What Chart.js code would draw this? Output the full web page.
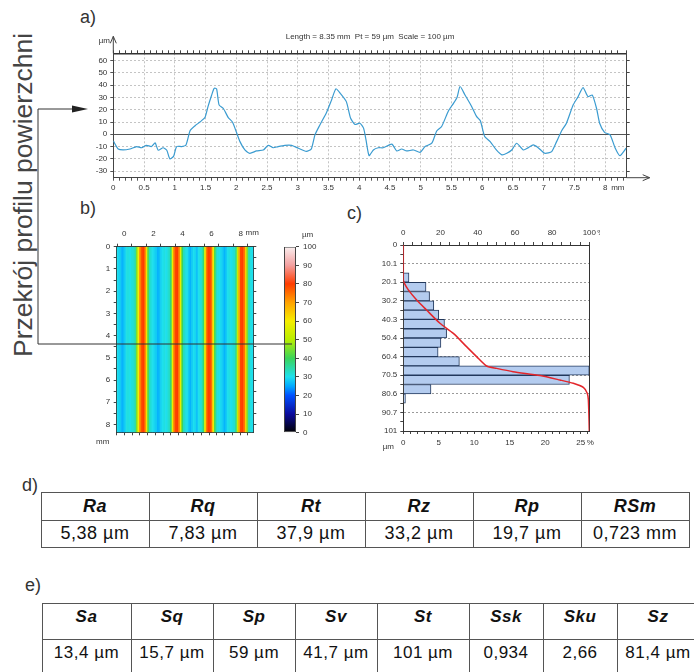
<!DOCTYPE html>
<html>
<head>
<meta charset="utf-8">
<script src="https://cdn.jsdelivr.net/npm/chart.js@4.4.1/dist/chart.umd.min.js"></script>
<style>
  html, body { margin: 0; padding: 0; background: #fff; }
  body { position: relative; width: 694px; height: 672px; overflow: hidden; font-family: "Liberation Sans", Arial, sans-serif; color: #222; }
  .box { position: absolute; }
  .box canvas { display: block; }
  .tag { position: absolute; font-size: 18px; line-height: 1; color: #333; }
  #side { position: absolute; left: 10px; top: 357px; font-size: 26.5px; line-height: 1; color: #444; white-space: nowrap; transform-origin: 0 0; transform: rotate(-90deg); }
  table { position: absolute; border-collapse: collapse; table-layout: fixed; }
  td, th { border: 1px solid #555; text-align: center; padding: 0; color: #111; }
  th { font-weight: bold; font-style: italic; }
  #tblR { font-size: 18px; letter-spacing: 0.5px; }
  #tblS { font-size: 17px; letter-spacing: 0.5px; }
  #tblS td, #tblS th { vertical-align: top; padding-top: 3px; }
  svg { position: absolute; left: 0; top: 0; pointer-events: none; }
</style>
</head>
<body>

<div class="tag" style="left:80px;top:8px">a)</div>
<div class="tag" style="left:80px;top:199px">b)</div>
<div class="tag" style="left:347px;top:204px">c)</div>
<div class="tag" style="left:22px;top:476px">d)</div>
<div class="tag" style="left:25px;top:576px">e)</div>
<div id="side"></div>

<div class="box" style="left:60px;top:20px"><canvas id="profile" width="610" height="185"></canvas></div>
<div class="box" style="left:80px;top:215px"><canvas id="map" width="190" height="235"></canvas></div>
<div class="box" style="left:270px;top:220px"><canvas id="scale" width="60" height="225"></canvas></div>
<div class="box" style="left:340px;top:215px"><canvas id="hist" width="260" height="240"></canvas></div>

<table id="tblR" style="left:40.5px;top:491.5px;width:648px"></table>
<table id="tblS" style="left:41.5px;top:602.5px;width:657px"></table>

<svg width="694" height="672">
  <polyline points="72,109 38,109 38,344 292,344" fill="none" stroke="#333" stroke-width="1"/>
  <polygon points="72,105.5 88,109 72,112.5" fill="#222"/>
</svg>

<script>
const sectionLabel = 'Przekrój profilu powierzchni'

// a) profile along the section line
const profileInfo = 'Length = 8.35 mm  Pt = 59 µm  Scale = 100 µm'
const profileLength = 8.35
const profileMm = [0, 0.08, 0.16, 0.27, 0.38, 0.46, 0.54, 0.62, 0.68, 0.73, 0.81, 0.87, 0.92, 0.98, 1.03, 1.11, 1.18, 1.25, 1.33, 1.41,
  1.49, 1.54, 1.6, 1.64, 1.68, 1.72, 1.79, 1.87, 1.94, 2.0, 2.06, 2.14, 2.22, 2.33, 2.44, 2.52, 2.6, 2.68, 2.79, 2.9,
  3.01, 3.14, 3.22, 3.28, 3.36, 3.47, 3.55, 3.62, 3.69, 3.79, 3.86, 3.93, 4.01, 4.07, 4.11, 4.16, 4.23, 4.31, 4.39, 4.53,
  4.61, 4.69, 4.77, 4.88, 4.99, 5.07, 5.18, 5.26, 5.34, 5.45, 5.53, 5.59, 5.64, 5.72, 5.83, 5.91, 5.97, 6.04, 6.13, 6.23,
  6.32, 6.4, 6.48, 6.56, 6.67, 6.75, 6.83, 6.91, 7.02, 7.13, 7.21, 7.29, 7.37, 7.48, 7.56, 7.64, 7.72, 7.79, 7.86, 7.91,
  7.99, 8.08, 8.16, 8.24, 8.34]
const profileUm = [-5.4, -12, -12.8, -12, -10, -11, -9, -10, -7, -13, -11, -13, -20, -18, -10, -10, -9, 3, 7, 10,
  13.6, 22.5, 32, 37.5, 37, 24, 21, 13.6, 9.8, 2, -6, -12.8, -15.5, -13.6, -12.8, -9, -11, -10, -9, -9,
  -11.4, -14, -12, -0.5, 7.6, 18, 28, 37, 33.4, 26.6, 13, 8, 9, 5, -4.6, -17.4, -12.8, -11, -11, -8,
  -13.6, -12, -13.6, -12.8, -14.7, -10, -7.3, 2.7, 6.3, 19, 25, 30, 38.9, 32, 22.5, 14.4, 11, -1.9, -6, -12.8,
  -16.8, -15.5, -12.8, -7.3, -12.8, -10.9, -8.7, -10.9, -15.5, -14.1, -6, 2.7, 9, 24, 30.7, 38, 30.7, 32, 21, 9,
  1.6, -0.5, -10.9, -17.4, -11.4]

// b) height map, one value (µm) per 0.1 mm column
const mapLength = 8.35
const mapColumnsUm = [30, 29, 28, 26, 27, 29, 31, 31, 30, 31, 32, 34, 45, 60, 72, 78, 80, 76, 62, 42,
  33, 31, 30, 29, 28, 26, 27, 29, 30, 31, 30, 31, 33, 38, 58, 74, 79, 80, 74, 58,
  40, 33, 31, 30, 28, 26, 28, 30, 29, 27, 30, 31, 32, 38, 58, 74, 80, 80, 75, 60,
  42, 33, 31, 30, 29, 28, 26, 28, 30, 31, 30, 31, 32, 36, 52, 70, 79, 80, 76, 64,
  45, 34, 31, 30]
const colorbarRange = [0, 100]

// c) height distribution
const depthTickLabels = ['0', '10.1', '20.1', '30.2', '40.3', '50.4', '60.4', '70.5', '80.6', '90.7', '101']
const depthMax = 101
const histCentersUm = [17.68, 22.73, 27.78, 32.83, 37.88, 42.93, 47.98, 53.03, 58.08, 63.13, 68.18, 73.23, 78.28, 83.33]
const histSharePct = [0.8, 3.2, 3.7, 4.3, 5.0, 5.8, 6.1, 5.3, 4.9, 7.9, 26.2, 23.4, 3.9, 0.3]
const histShareMax = 26.2
const cumPercent = [0, 0, 0.4, 2.7, 7.2, 12.5, 19.7, 26.9, 34, 39.4, 44.8, 50.2, 59, 73.5, 84.2, 91.4, 96.8, 98.9, 99.5, 100]
const cumDepthUm = [0, 19, 20.4, 24.4, 29.9, 35.3, 42.5, 48, 55.2, 60.6, 65.7, 67, 68.8, 70.9, 73.3, 75.1, 77.3, 80.5, 84.2, 101]

// d) / e) parameter tables
const profileParams = ['Ra', 'Rq', 'Rt', 'Rz', 'Rp', 'RSm']
const profileValues = ['5,38 µm', '7,83 µm', '37,9 µm', '33,2 µm', '19,7 µm', '0,723 mm']
const surfaceParams = ['Sa', 'Sq', 'Sp', 'Sv', 'St', 'Ssk', 'Sku', 'Sz']
const surfaceValues = ['13,4 µm', '15,7 µm', '59 µm', '41,7 µm', '101 µm', '0,934', '2,66', '81,4 µm']

document.getElementById('side').textContent = sectionLabel

function fillTable(id, heads, vals, widths, heights) {
  const t = document.getElementById(id)
  const cg = document.createElement('colgroup')
  widths.forEach(w => { const c = document.createElement('col'); c.style.width = w + 'px'; cg.appendChild(c) })
  t.appendChild(cg)
  ;[heads, vals].forEach((row, r) => {
    const tr = document.createElement('tr')
    tr.style.height = heights[r] + 'px'
    row.forEach(txt => { const c = document.createElement(r ? 'td' : 'th'); c.textContent = txt; tr.appendChild(c) })
    t.appendChild(tr)
  })
}
fillTable('tblR', profileParams, profileValues, [108, 108, 108, 108, 108, 108], [28, 27])
fillTable('tblS', surfaceParams, surfaceValues, [89, 82, 82, 82, 92, 74, 74, 82], [36, 36])

// colour scale of the height map
const cmapStops = [[0, '#000000'], [10, '#0b0b9c'], [20, '#0050ff'], [25, '#00a8ff'], [30, '#1ee0ee'], [40, '#3ad45a'],
  [50, '#b8ee00'], [60, '#f6ee00'], [70, '#ffa200'], [80, '#ff3c00'], [90, '#f3a0a0'], [100, '#faf0f0']]
function hexRgb(h) { return [1, 3, 5].map(i => parseInt(h.substr(i, 2), 16)) }
function colorAt(v) {
  for (let i = 1; i < cmapStops.length; i++) {
    const [v1, c1] = cmapStops[i]
    const [v0, c0] = cmapStops[i - 1]
    if (v <= v1) {
      const t = (v - v0) / (v1 - v0), a = hexRgb(c0), b = hexRgb(c1)
      return 'rgb(' + a.map((x, k) => Math.round(x + (b[k] - x) * t)).join(',') + ')'
    }
  }
  return cmapStops[cmapStops.length - 1][1]
}

Chart.defaults.font.family = '"Liberation Sans", Arial, sans-serif'
Chart.defaults.font.size = 8
Chart.defaults.color = '#333'
Chart.defaults.animation = false
Chart.defaults.responsive = false
Chart.defaults.plugins.legend.display = false
Chart.defaults.plugins.tooltip.enabled = false

const CLEAR = 'rgba(0,0,0,0)'
const near = (v, step) => Math.abs(v / step - Math.round(v / step)) < 1e-6
const FONT = '8px "Liberation Sans", Arial, sans-serif'

function ticksOnly(extra) {
  return Object.assign({ ticks: { display: false }, grid: { drawOnChartArea: false, tickLength: 3, tickColor: '#444' }, border: { color: '#333' } }, extra)
}

// ---------- a) profile ----------
const profileDecor = {
  id: 'profileDecor',
  afterDraw(chart) {
    const { ctx, chartArea: a } = chart
    const x8 = chart.scales.x.getPixelForValue(8)
    ctx.save()
    ctx.strokeStyle = '#444'
    ctx.lineWidth = 1
    ctx.beginPath()
    ctx.moveTo(a.left, a.top); ctx.lineTo(a.left, a.top - 17)
    ctx.moveTo(a.left - 3, a.top - 10); ctx.lineTo(a.left, a.top - 17); ctx.lineTo(a.left + 3, a.top - 10)
    ctx.moveTo(a.right, a.bottom); ctx.lineTo(a.right + 23, a.bottom)
    ctx.moveTo(a.right + 16, a.bottom - 3); ctx.lineTo(a.right + 23, a.bottom); ctx.lineTo(a.right + 16, a.bottom + 3)
    ctx.stroke()
    ctx.fillStyle = '#333'
    ctx.font = FONT
    ctx.textBaseline = 'middle'
    ctx.textAlign = 'center'
    ctx.fillText(profileInfo, (a.left + a.right) / 2, a.top - 17)
    ctx.fillText('µm', a.left - 9, a.top - 13)
    ctx.textAlign = 'left'
    ctx.fillText('mm', x8 + 6, a.bottom + 10.3)
    ctx.restore()
  }
}

new Chart(document.getElementById('profile'), {
  type: 'line',
  data: {
    datasets: [{
      data: profileMm.map((x, i) => ({ x, y: profileUm[i] })),
      borderColor: '#3a9bd0', borderWidth: 1.2, pointRadius: 0, tension: 0.2
    }]
  },
  options: {
    layout: { padding: { left: 0, top: 29.3, right: 39.3, bottom: 5.3 } },
    scales: {
      x: {
        type: 'linear', min: 0, max: profileLength,
        afterFit: s => { s.height = 22 },
        ticks: { stepSize: 0.1, autoSkip: false, maxRotation: 0, includeBounds: false, padding: 2,
          callback: v => near(v, 0.5) ? String(v) : '' },
        grid: { color: c => c.tick && c.tick.value > 0 && near(c.tick.value, 0.5) ? '#c4c4c4' : CLEAR, tickColor: '#555', tickLength: 3 },
        border: { color: '#444', dash: [2, 2] }
      },
      x2: ticksOnly({
        type: 'linear', position: 'top', min: 0, max: profileLength,
        afterFit: s => { s.height = 4 },
        ticks: { display: false, stepSize: 0.1 },
        border: { color: '#333', width: 1.5 }
      }),
      y: {
        min: -35.4, max: 66,
        afterFit: s => { s.width = 53.3 },
        ticks: { stepSize: 10, includeBounds: false, padding: 3 },
        grid: { color: c => c.tick && c.tick.value === 0 ? '#555' : '#c4c4c4', tickColor: '#555', tickLength: 3 },
        border: { color: '#444', dash: c => c.tick && c.tick.value === 0 ? [] : [2, 2] }
      },
      y2: ticksOnly({
        position: 'right', min: -35.4, max: 66,
        afterFit: s => { s.width = 4 },
        ticks: { display: false, stepSize: 10, includeBounds: false },
        border: { color: '#444' }
      })
    }
  },
  plugins: [profileDecor]
})

// ---------- b) height map ----------
const mapDecor = {
  id: 'mapDecor',
  afterDraw(chart) {
    const { ctx, chartArea: a } = chart
    const x8 = chart.scales.xt.getPixelForValue(8)
    ctx.save()
    ctx.fillStyle = '#333'
    ctx.font = FONT
    ctx.textBaseline = 'middle'
    ctx.textAlign = 'left'
    ctx.fillText('mm', x8 + 5, a.top - 13.5)
    ctx.textAlign = 'center'
    ctx.fillText('mm', a.left - 14, a.bottom + 9)
    ctx.restore()
  }
}

new Chart(document.getElementById('map'), {
  type: 'bar',
  data: {
    labels: mapColumnsUm.map((_, i) => i),
    datasets: [{
      data: mapColumnsUm.map(() => [0, mapLength]),
      backgroundColor: mapColumnsUm.map(colorAt),
      borderWidth: 0, barPercentage: 1, categoryPercentage: 1
    }]
  },
  options: {
    layout: { padding: { left: 0, top: 11.7, right: 12.7, bottom: 13.7 } },
    scales: {
      x: { display: false },
      y: {
        min: 0, max: mapLength, reverse: true,
        afterFit: s => { s.width = 36.7 },
        ticks: { stepSize: 0.5, autoSkip: false, includeBounds: false, padding: 3.5,
          callback: v => near(v, 1) ? String(v) : '' },
        grid: { drawOnChartArea: false, tickLength: 3, tickColor: '#444' },
        border: { color: '#333' }
      },
      xt: {
        type: 'linear', position: 'top', min: 0, max: mapLength,
        afterFit: s => { s.height = 20 },
        ticks: { stepSize: 1, autoSkip: false, includeBounds: false, maxRotation: 0, padding: 5,
          callback: v => near(v, 2) ? String(v) : '' },
        grid: { drawOnChartArea: false, tickLength: 3, tickColor: '#444' },
        border: { color: '#333' }
      },
      xb: ticksOnly({
        type: 'linear', position: 'bottom', min: 0, max: mapLength,
        afterFit: s => { s.height = 4 },
        ticks: { display: false, stepSize: 0.5, includeBounds: false }
      }),
      yr: ticksOnly({
        position: 'right', min: 0, max: mapLength, reverse: true,
        afterFit: s => { s.width = 4 },
        ticks: { display: false, stepSize: 0.5, includeBounds: false }
      })
    }
  },
  plugins: [mapDecor]
})

// colour bar next to the map
const scaleDecor = {
  id: 'scaleDecor',
  afterDraw(chart) {
    const { ctx, chartArea: a } = chart
    ctx.save()
    ctx.fillStyle = '#333'
    ctx.font = FONT
    ctx.textBaseline = 'middle'
    ctx.textAlign = 'left'
    ctx.fillText('µm', a.right + 6, a.top - 12)
    ctx.restore()
  }
}

new Chart(document.getElementById('scale'), {
  type: 'bar',
  data: {
    labels: [''],
    datasets: [{
      data: [colorbarRange],
      backgroundColor: c => {
        const a = c.chart.chartArea
        if (!a) return '#888'
        const g = c.chart.ctx.createLinearGradient(0, a.bottom, 0, a.top)
        cmapStops.forEach(([v, col]) => g.addColorStop(v / 100, col))
        return g
      },
      borderColor: '#444', borderWidth: 1, borderSkipped: false, inflateAmount: 0,
      barPercentage: 1, categoryPercentage: 1
    }]
  },
  options: {
    layout: { padding: { left: 14, top: 26.7, right: 0, bottom: 12.3 } },
    scales: {
      x: { display: false },
      y: {
        position: 'right', min: colorbarRange[0], max: colorbarRange[1],
        afterFit: s => { s.width = 34 },
        ticks: { stepSize: 10, padding: 4 },
        grid: { drawOnChartArea: false, tickLength: 3, tickColor: '#444' },
        border: { display: false }
      }
    }
  },
  plugins: [scaleDecor]
})

// ---------- c) distribution ----------
const histDecor = {
  id: 'histDecor',
  afterDraw(chart) {
    const { ctx, chartArea: a } = chart
    ctx.save()
    ctx.fillStyle = '#333'
    ctx.font = FONT
    ctx.textBaseline = 'middle'
    ctx.textAlign = 'left'
    ctx.fillText('%', chart.scales.x2.getPixelForValue(100) + 8, a.top - 11.8)
    ctx.fillText('%', chart.scales.x.getPixelForValue(25) + 6, a.bottom + 11.8)
    ctx.textAlign = 'center'
    ctx.fillText('µm', a.left - 15, a.bottom + 16)
    ctx.restore()
  }
}

const depthStep = depthMax / (depthTickLabels.length - 1)

new Chart(document.getElementById('hist'), {
  type: 'bar',
  data: {
    datasets: [
      {
        type: 'line', xAxisID: 'x2', yAxisID: 'y', indexAxis: 'y', order: 0,
        data: cumPercent.map((x, i) => ({ x, y: cumDepthUm[i] })),
        borderColor: '#e3262b', borderWidth: 1.5, pointRadius: 0, tension: 0.25
      },
      {
        type: 'bar', xAxisID: 'x', yAxisID: 'y', order: 1,
        data: histSharePct.map((x, i) => ({ x, y: histCentersUm[i] })),
        backgroundColor: '#b4ccef', borderColor: '#22385c', borderWidth: 1,
        barPercentage: 1, categoryPercentage: 1
      }
    ]
  },
  options: {
    indexAxis: 'y',
    layout: { padding: { left: 0, top: 0, right: 10.7, bottom: 2 } },
    scales: {
      y: {
        type: 'linear', min: 0, max: depthMax, reverse: true, offset: false,
        afterFit: s => { s.width = 63.3 },
        afterBuildTicks: s => {
          const vals = []
          depthTickLabels.forEach((_, i) => {
            vals.push(i * depthStep)
            if (i < depthTickLabels.length - 1) vals.push((i + 0.5) * depthStep)
          })
          s.ticks = vals.map(value => ({ value }))
        },
        ticks: { autoSkip: false, padding: 3, callback: (v, i) => i % 2 === 0 ? depthTickLabels[i / 2] : '' },
        grid: { offset: false, color: c => c.index % 2 === 0 && c.index > 0 && c.index < 20 ? '#9a9a9a' : CLEAR, tickColor: '#444', tickLength: 3 },
        border: { color: '#333', dash: [2, 2] }
      },
      y2: {
        type: 'linear', position: 'right', min: 0, max: depthMax, reverse: true, offset: false,
        afterFit: s => { s.width = 0 },
        ticks: { display: false },
        grid: { display: false, offset: false },
        border: { color: '#333' }
      },
      x: {
        type: 'linear', min: 0, max: histShareMax,
        afterFit: s => { s.height = 22 },
        ticks: { stepSize: 1, autoSkip: false, includeBounds: false, maxRotation: 0, padding: 4,
          callback: v => near(v, 5) ? String(v) : '' },
        grid: { drawOnChartArea: false, tickLength: 3, tickColor: '#444' },
        border: { color: '#333' }
      },
      x2: {
        type: 'linear', position: 'top', min: 0, max: 100,
        afterFit: s => { s.height = 30 },
        ticks: { stepSize: 5, autoSkip: false, maxRotation: 0, padding: 4,
          callback: v => near(v, 20) ? String(v) : '' },
        grid: { drawOnChartArea: false, tickLength: 3, tickColor: '#444' },
        border: { color: '#333' }
      }
    }
  },
  plugins: [histDecor]
})
</script>
</body>
</html>
